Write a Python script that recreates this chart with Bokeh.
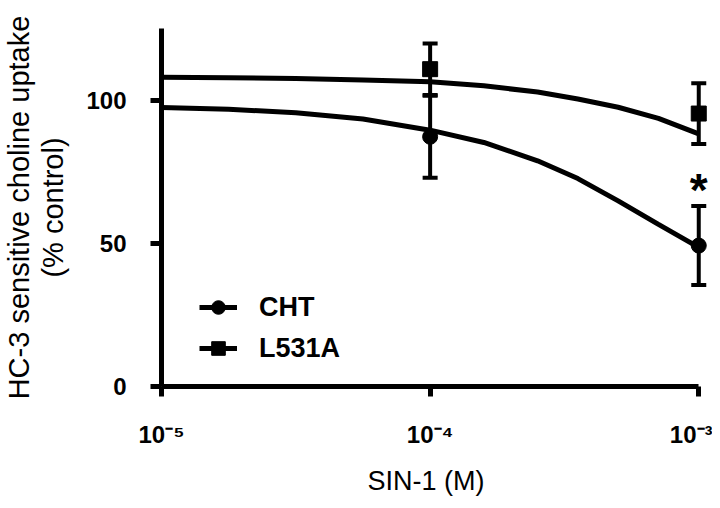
import numpy as np
from bokeh.plotting import figure
from bokeh.models import (ColumnDataSource, Range1d, FixedTicker, Whisker, TeeHead,
                          Legend, LegendItem, Title)
from bokeh.core.properties import value
from bokeh.embed import file_html
from bokeh.resources import INLINE

# ---- data ----
conc = [1e-4, 1e-3]
cht_mean = [87.2, 49.2]
cht_sem = [14.3, 13.8]
l531a_mean = [110.8, 95.3]
l531a_sem = [9.0, 10.6]

curve_log_conc = [-5.0, -4.75, -4.5, -4.25, -4.0, -3.8, -3.6, -3.45, -3.3, -3.15, -3.0]
cht_curve = [97.4, 96.8, 95.6, 93.4, 89.5, 85.2, 78.8, 72.6, 64.8, 56.6, 48.6]
l531a_curve = [108.0, 107.8, 107.5, 107.0, 106.4, 105.0, 102.8, 100.4, 97.5, 93.6, 88.2]

x_ticks = [1e-5, 1e-4, 1e-3]
x_tick_labels = ["10\u207b\u2075", "10\u207b\u2074", "10\u207b\u00b3"]
y_ticks = [0, 50, 100]

star_x = [1e-3]
star_y = [68.7]

FONT = "Liberation Sans"

p = figure(width=712, height=508, x_axis_type="log",
           x_range=Range1d(1e-5, 10 ** (-2.96)), y_range=Range1d(0, 125),
           output_backend="svg", toolbar_location=None,
           min_border_left=159, min_border_right=3, min_border_top=28, min_border_bottom=120)
p.outline_line_color = None
p.grid.visible = False
p.background_fill_color = "white"

curve_x = [10 ** v for v in curve_log_conc]
r_cht_line = p.line(curve_x, cht_curve, line_width=5, line_color="black")
r_l_line = p.line(curve_x, l531a_curve, line_width=5, line_color="black")

for mean, sem in ((cht_mean, cht_sem), (l531a_mean, l531a_sem)):
    src = ColumnDataSource(dict(x=conc,
                                upper=[m + s for m, s in zip(mean, sem)],
                                lower=[m - s for m, s in zip(mean, sem)]))
    w = Whisker(source=src, base="x", upper="upper", lower="lower",
                line_width=4, line_color="black",
                upper_head=TeeHead(size=15, line_width=4, line_color="black"),
                lower_head=TeeHead(size=15, line_width=4, line_color="black"))
    p.add_layout(w)

r_cht_pts = p.scatter(conc, cht_mean, marker="circle", size=15, fill_color="black", line_color="black")
r_l_pts = p.scatter(conc, l531a_mean, marker="square", size=15, fill_color="black", line_color="black")

p.text(star_x, star_y, text=["*"], text_font=value(FONT), text_font_size="46px",
       text_font_style="bold", text_align="center", text_baseline="alphabetic", text_color="black")

# axes
for ax in (p.xaxis[0], p.yaxis[0]):
    ax.axis_line_width = 5
    ax.axis_line_color = "black"
    ax.major_tick_line_width = 5
    ax.major_tick_line_color = "black"
    ax.major_tick_in = 0
    ax.minor_tick_line_color = None
    ax.major_label_text_font = FONT
    ax.major_label_text_font_style = "bold"
    ax.major_label_text_font_size = "24px"
    ax.major_label_text_color = "black"
    ax.axis_label_text_font = FONT
    ax.axis_label_text_font_style = "normal"
    ax.axis_label_text_color = "black"

p.yaxis.ticker = FixedTicker(ticks=y_ticks)
p.yaxis.major_tick_out = 11
p.yaxis.major_label_standoff = 24
p.yaxis.axis_label = "(% control)"
p.yaxis.axis_label_text_font_size = "29px"
p.yaxis.axis_label_standoff = 14
p.add_layout(Title(text="HC-3 sensitive choline uptake", align="center", text_font=FONT,
                   text_font_size="29px", text_font_style="normal", text_color="black",
                   standoff=0, offset=0), "left")

p.xaxis.ticker = FixedTicker(ticks=x_ticks)
p.xaxis.bounds = (x_ticks[0], x_ticks[-1])
p.xaxis.major_tick_out = 10
p.xaxis.major_label_standoff = 24
p.xaxis.major_label_overrides = dict(zip(x_ticks, x_tick_labels))
p.add_layout(Title(text="SIN-1 (M)", align="left", offset=206, text_font=FONT,
                   text_font_size="27px", text_font_style="normal", text_color="black",
                   standoff=26), "below")

legend = Legend(items=[LegendItem(label="CHT", renderers=[r_cht_line, r_cht_pts]),
                       LegendItem(label="L531A", renderers=[r_l_line, r_l_pts])],
                location=(38, 21), padding=0, margin=0, spacing=7,
                glyph_width=38, glyph_height=34, label_height=34, label_standoff=22,
                label_text_font=FONT, label_text_font_size="27px", label_text_font_style="bold",
                label_text_color="black", border_line_color=None, background_fill_alpha=0)
p.add_layout(legend)

open("out.html", "w").write(file_html(p, INLINE))
